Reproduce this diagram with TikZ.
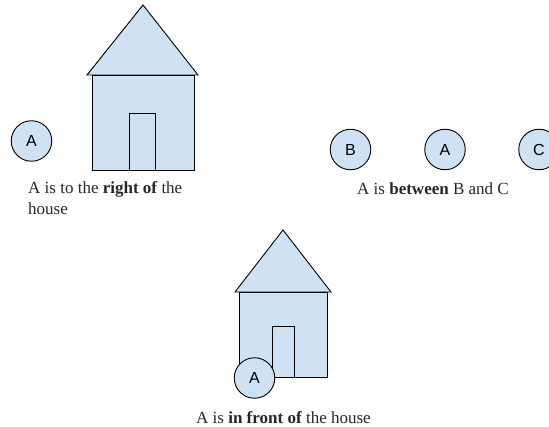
\documentclass[tikz,border=0pt]{standalone}
\usepackage{fontspec}
\setmainfont{Liberation Serif}
\newfontfamily\labelfont{Liberation Sans}
\definecolor{housefill}{HTML}{CFE2F3}
\tikzset{
  shapeline/.style={draw=black,fill=housefill,line width=0.9pt,line join=miter},
  ball/.style={circle,draw=black,fill=housefill,line width=0.9pt,minimum size=40.5pt,inner sep=0pt,font=\labelfont\fontsize{16}{18}\selectfont},
  caption/.style={inner sep=0pt,font=\fontsize{17}{21}\selectfont,text=black!85!white}
}
\begin{document}
\begin{tikzpicture}[x=1pt,y=-1pt]
\useasboundingbox (0,0) rectangle (549,427);
\clip (0,0) rectangle (549,427);
% left house
\draw[shapeline] (92,75) rectangle (194,170);
\draw[shapeline] (129.5,113.5) rectangle (155.5,170);
\draw[shapeline] (143,5) -- (198,75) -- (87,75) -- cycle;
\node[ball] (a1) at (31.5,141) {A};
\node[caption,anchor=north west,align=left] (c1) at (28,181.5) {A is to the \textbf{right of} the\\house};
% middle row
\node[ball] (b) at (350.5,149.5) {B};
\node[ball] (a2) at (445,149.5) {A};
\node[ball] (c) at (539,149.5) {C};
\node[caption] (c2) at (433,189) {A is \textbf{between} B and C};
% lower house
\draw[shapeline] (239.5,292) rectangle (327.5,377);
\draw[shapeline] (272,326.5) rectangle (294.5,377);
\draw[shapeline] (283,230) -- (331,292) -- (235,292) -- cycle;
\node[ball] (a3) at (254.5,378) {A};
\node[caption] (c3) at (283.5,418) {A is \textbf{in front of} the house};
\end{tikzpicture}
\end{document}
